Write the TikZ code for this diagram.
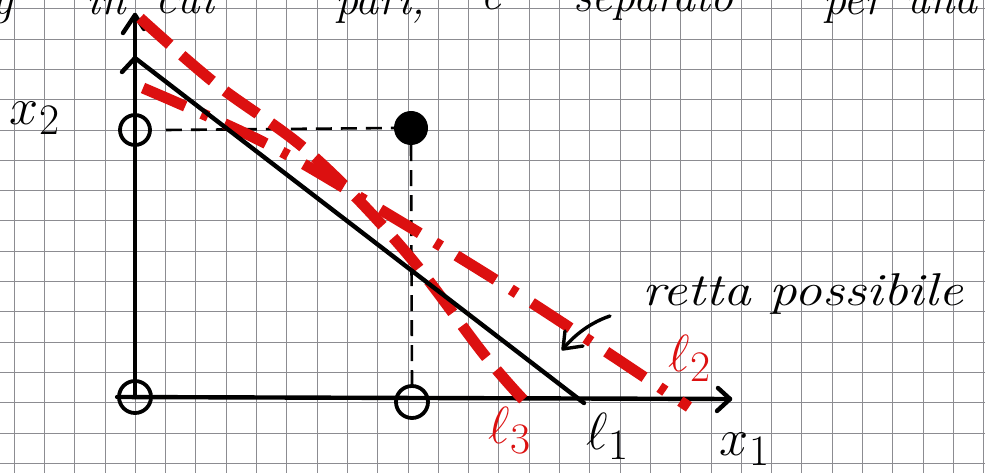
\documentclass[tikz,border=0pt]{standalone}
\usepackage{graphicx}
\usetikzlibrary{arrows.meta}
\definecolor{marker}{RGB}{220,16,16}
\definecolor{gridc}{RGB}{140,140,145}
\newcommand{\bigmath}[1]{\scalebox{2.1}{\Huge$#1$}}
\begin{document}
\begin{tikzpicture}[x=1pt,y=-1pt,
  gridline/.style={gridc,line width=0.75pt},
  axis/.style={black,line width=4.4pt,line cap=round},
  chev/.style={black,line width=4.4pt,line cap=round,line join=round},
  guide/.style={black,line width=2.6pt,dash pattern=on 16pt off 9pt},
  redltwo/.style={marker,line width=11pt,dash pattern=on 46pt off 18pt on 7pt off 18pt},
  redlthree/.style={marker,line width=11pt,dash pattern=on 40pt off 16pt},
  hollow/.style={circle,draw=black,line width=3.8pt,minimum size=32pt,inner sep=0pt},
  bigdot/.style={circle,fill=black,minimum size=34pt,inner sep=0pt},
  hand/.style={font=\fontsize{46}{52}\selectfont\itshape,inner sep=0pt},
  mlabel/.style={inner sep=0pt},
]
\useasboundingbox (0,0) rectangle (985,473);
\fill[white] (0,0) rectangle (985,473);
\clip (0,0) rectangle (985,473);
% grid paper
\foreach \i in {0,...,32} \draw[gridline] ({14+30.3*\i},0) -- ++(0,473);
\foreach \j in {0,...,15} \draw[gridline] (0,{8.7+30.3*\j}) -- ++(985,0);
% top (cropped) handwriting
\node[hand,anchor=base west] (t0) at (-8,15) {g};
\node[hand,anchor=base west] (t1) at (86,15) {in};
\node[hand,anchor=base west] (t2) at (155,14) {cui};
\node[hand,anchor=base west] (t3) at (335,15) {pari,};
\node[hand,anchor=base west] (t4) at (480,10) {è};
\node[hand,anchor=base west] (t5) at (573,12) {separato};
\node[hand,anchor=base west] (t6) at (823,15) {per};
\node[hand,anchor=base west] (t7) at (905,14) {una};
% points
\node[hollow] (o) at (135,397) {};
\node[hollow,minimum size=30pt] (a2) at (135,130) {};
\node[hollow] (a1) at (412,402) {};
\node[bigdot] (p) at (411,128) {};
% axes
\coordinate (ytop) at (135,15);
\coordinate (xtip) at (730,399);
\draw[axis] (o.center) -- (ytop);
\draw[axis] (o.west) -- (xtip);
\draw[chev] ([shift={(-12,18)}]ytop) -- (ytop) -- ([shift={(9,14)}]ytop);
\draw[chev] ([shift={(-12,-11)}]xtip) -- (xtip) -- ([shift={(-13,12)}]xtip);
% guides
\draw[guide] ([xshift=14pt]a2.east) -- (p.west);
\draw[guide] (p.south) -- (a1.north);
% red lines
\coordinate (l3s) at (140,18);
\coordinate (l3e) at (532,409);
\draw[redlthree] plot[smooth,tension=0.6] coordinates {(l3s) (216,84) (311,154) (404,250) (486,357) (l3e)};
\coordinate (l2s) at (143,88);
\coordinate (l2e) at (689,407);
\draw[redltwo] plot[smooth,tension=0.6] coordinates {(l2s) (259,140) (356,195) (518,294) (l2e)};
% black line l1
\coordinate (l1s) at (135,58);
\coordinate (l1e) at (584,403);
\draw[axis] (l1s) -- (l1e);
\draw[axis] (122,72) -- (l1s);
% labels
\node[mlabel] (x2) at (35,118) {\bigmath{x_2}};
\node[mlabel] (x1) at (745,449) {\bigmath{x_1}};
\node[mlabel,text=marker] (lab3) at (510,430) {\bigmath{\ell_3}};
\node[mlabel] (lab1) at (608,436) {\bigmath{\ell_1}};
\node[mlabel,text=marker] (lab2) at (690,358) {\bigmath{\ell_2}};
% retta possibile
\node[hand,anchor=base west] (rp) at (642,305) {\scalebox{1.2}[1]{retta possibile}};
\coordinate (as) at (610,316);
\coordinate (ae) at (563,349);
\draw[axis,line width=3.4pt] (as) .. controls (592,322) and (575,334) .. (ae);
\draw[chev,line width=3.4pt] ([shift={(2,-18)}]ae) -- (ae) -- ([shift={(20,-3)}]ae);
\end{tikzpicture}
\end{document}
